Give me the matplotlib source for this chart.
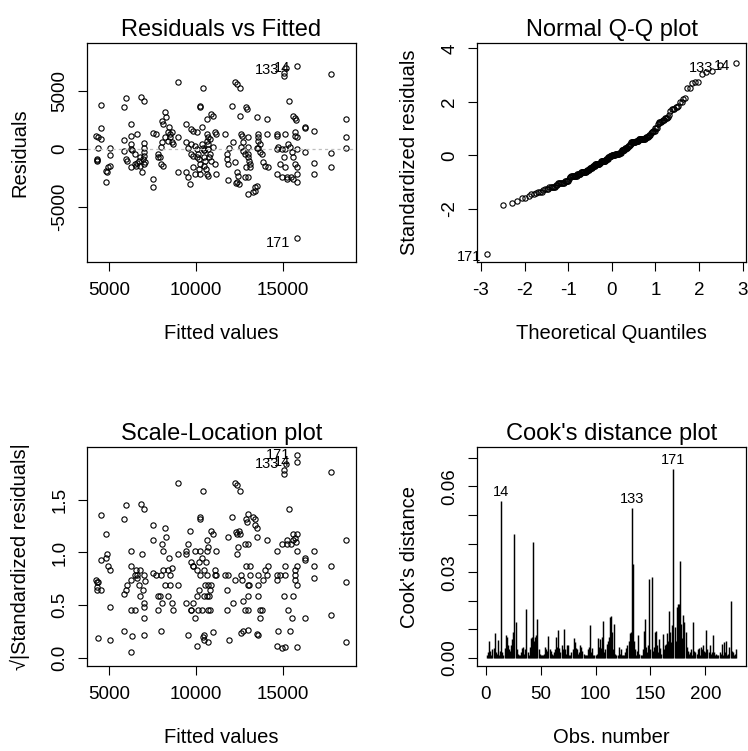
import numpy as np
import matplotlib
matplotlib.use("Agg")
import matplotlib.pyplot as plt
from statistics import NormalDist

plt.rcParams['font.family'] = ['Liberation Sans', 'DejaVu Sans']

# ---------------- data ----------------
fitted = [
    4560, 4560, 4230, 4390, 4560, 4370, 4290, 4300, 4310, 4850, 4880, 4850, 5040, 5040, 5040, 4940,
    5850, 6000, 5850, 5850, 6000, 6060, 6290, 6290, 6290, 6290, 6350, 6290, 6480, 6480, 6580, 6630,
    6620, 6730, 6770, 6870, 7000, 7000, 7000, 7000, 7000, 6960, 7000, 6920, 6770, 7100,
    7540, 7540, 7540, 7730, 7830, 7830, 8020, 8110, 8020, 8080, 7920, 8110, 8210, 8310, 8060, 8400,
    8500, 8600, 8540, 8600, 8400, 8250, 8690, 8460,
    8980, 8980, 8980, 9420, 9460, 9560, 9650, 9460, 9560, 9750, 9850, 9750, 9750, 9810, 9850, 9940,
    10040, 9940, 10040, 10130, 10080, 10190, 10230, 10230, 10230, 10190, 10230,
    10420, 10330, 10380, 10420, 10460, 10460, 10520, 10460, 10580, 10620, 10710, 10620, 10650, 10710,
    10620, 10710, 10710, 10810, 10770, 10850, 11000, 11100, 11150, 11000, 11100, 11150, 10900, 10810, 10500,
    11670, 11770, 11770, 11860, 11860, 11920, 12060, 12250, 12380, 12540, 12150, 12250, 12350, 12380,
    12500, 12310, 12440, 12540, 12580, 12690, 12630, 12730, 12830, 12920, 12960, 13020, 13020, 13020,
    13020, 13080, 13120, 13150, 13020, 13020, 12920, 12830, 12700,
    13400, 13500, 13400, 13310, 13500, 13600, 13600, 13690, 13600, 13500, 13690, 13790, 13880, 13980,
    14170, 14080, 14130, 13600,
    14650, 14650, 14650, 14650, 14750, 14850, 14940, 15130, 15130, 15230, 15270, 15080, 15130, 15190,
    15080, 15080, 15810, 15380, 15620, 15710, 15770, 15710, 15710, 15620, 15710, 15810, 15620, 15810,
    15520, 15420, 15330, 15810, 15810, 15460, 15810, 14950, 15810,
    16290, 16290, 16290, 16810, 16810, 16810, 17790, 17790, 17790, 18650, 18650, 18650,
]
residuals = [
    3800, 1770, 1140, 1060, 860, 75, -860, -1060, -940, -1860, -2000, -2860, 60, -490, -1430, -1570,
    3570, 4370, 770, -140, -860, -1000, 2140, 1140, 430, 7, -90, -1570, -430, -1290, -1430, -1200,
    1290, -1000, -1430, 4430, 4140, 490, 100, -290, -570, -860, -1290, -2000, -710, -1100,
    -2570, -3290, 1340, 1290, -430, -710, -1290, -1430, 140, 570, -710, 2140, 3140, 2710, 2430, 1430,
    1290, 1490, 1000, 570, 710, 1000, 430, 1860,
    5710, -2000, 1000, 2140, -2000, -2430, -3000, 570, 100, 1710, 1570, 430, -430, -570, -1570, -2140,
    1430, 290, -25, -430, -710, -860, 3710, 3570, -1290, -1710, -2140,
    5200, 1860, 430, 83, -60, -710, -1000, -1430, -1710, -2140, -2290, 2570, 1290, 1000,
    710, 430, -47, -430, -710, 3000, 2860, 1430, 1290, 130, -1290, -2140, -1000, 860, -100,
    1290, -430, -860, -1290, -2710, 60, 3710, 5710, 5570, 5200, 570, -1140, -2000, -2860,
    -3000, -2940, -2290, 2860, 1290, 1140, 120, -140, -2430, 3570, 3430, 1000, 150, -430,
    -710, -1000, -1290, -1570, -2430, -3860, -1570, -430, 600,
    -3290, -3140, -3570, -3710, 2710, 1290, 1000, 430, 100, 110, -290, -430, -1140, -1430,
    -1570, 1290, 2570, 710,
    1290, 1140, 25, -2140, 140, -1290, -2430, 21, -1570, -2430, -2570, -710, 1290, 6970,
    6540, 6290, 7140, 4140, 2860, 2660, 2510, 1430, 1140, -710, -1290, -1570, -2570, -2860,
    -290, 140, 430, 1000, -2140, -2430, -7630, 20, -22,
    1860, 1770, -290, 1570, -1200, -2140, 6430, -340, -1570, 2570, 1060, 47,
]
sigma = 2070.0                      # residual standard error
resid_id_labels = ["171", "14", "133"]   # names of the 3 largest |residuals|, in decreasing order

cooks = [
    0.001, 0.002, 0.0058, 0.0025, 0.001, 0.003, 0.0035, 0.0088, 0.002, 0.0015,
    0.0064, 0.001, 0.0025, 0.0548, 0.002, 0.0012, 0.0035, 0.0082, 0.0075, 0.0045,
    0.003, 0.0025, 0.0045, 0.0065, 0.009, 0.0432, 0.0126, 0.003, 0.0015, 0.001,
    0.0012, 0.002, 0.0035, 0.004, 0.0015, 0.003, 0.0173, 0.002, 0.0012, 0.004,
    0.007, 0.0075, 0.0404, 0.006, 0.0072, 0.008, 0.0138, 0.003, 0.0015, 0.001,
    0.001, 0.0012, 0.0015, 0.004, 0.003, 0.0025, 0.0076, 0.003, 0.0025, 0.0015,
    0.001, 0.002, 0.003, 0.0074, 0.004, 0.0097, 0.0035, 0.002, 0.0045, 0.003,
    0.0103, 0.003, 0.0015, 0.0045, 0.0045, 0.001, 0.001, 0.002, 0.003, 0.007,
    0.0055, 0.0035, 0.003, 0.0015, 0.002, 0.0045, 0.004, 0.0025, 0.0015, 0.0012,
    0.001, 0.001, 0.003, 0.004, 0.0114, 0.002, 0.0035, 0.001, 0.001, 0.0012,
    0.0015, 0.007, 0.004, 0.0065, 0.0035, 0.0075, 0.013, 0.002, 0.003, 0.005,
    0.006, 0.0075, 0.0143, 0.0147, 0.009, 0.003, 0.012, 0.0015, 0.001, 0.001,
    0.004, 0.0015, 0.003, 0.001, 0.001, 0.001, 0.002, 0.0035, 0.0045, 0.006,
    0.0088, 0.009, 0.0523, 0.033, 0.006, 0.003, 0.001, 0.0025, 0.008, 0.0015,
    0.001, 0.001, 0.003, 0.0095, 0.0138, 0.004, 0.002, 0.0045, 0.0278, 0.003,
    0.0285, 0.0025, 0.004, 0.009, 0.0095, 0.0045, 0.002, 0.0065, 0.0035, 0.0015,
    0.0085, 0.003, 0.0045, 0.005, 0.0087, 0.006, 0.0166, 0.009, 0.0055, 0.0115,
    0.066, 0.011, 0.006, 0.018, 0.019, 0.0188, 0.034, 0.012, 0.007, 0.015,
    0.0126, 0.009, 0.004, 0.0025, 0.0015, 0.002, 0.003, 0.001, 0.0126, 0.0025,
    0.002, 0.0015, 0.003, 0.0035, 0.001, 0.004, 0.003, 0.0045, 0.0025, 0.002,
    0.0097, 0.003, 0.002, 0.0045, 0.0015, 0.002, 0.0082, 0.002, 0.001, 0.0015,
    0.001, 0.001, 0.002, 0.0015, 0.005, 0.001, 0.0055, 0.002, 0.0058, 0.001,
    0.0015, 0.004, 0.020, 0.0025, 0.002, 0.001, 0.0015, 0.003,
]

fit_ticks = [5000, 10000, 15000]
res_ticks = [-5000, 0, 5000]
qq_xticks = [-3, -2, -1, 0, 1, 2, 3]
qq_yticks = [-2, 0, 2, 4]
sl_yticks = [0.0, 0.5, 1.0, 1.5]
obs_ticks = [0, 50, 100, 150, 200]
cook_ticks = [0.00, 0.01, 0.02, 0.03, 0.04, 0.05, 0.06, 0.07]
cook_tick_labels = ["0.00", "", "", "0.03", "", "", "0.06", ""]

# ---------------- derived quantities ----------------
fitted = np.array(fitted, float)
residuals = np.array(residuals, float)
std_res = residuals / sigma
n = len(residuals)
order = np.argsort(std_res)
pp = (np.arange(1, n + 1) - 0.5) / n
theo = np.array([NormalDist().inv_cdf(p) for p in pp])
sqrt_abs = np.sqrt(np.abs(std_res))
top_ids = np.argsort(-np.abs(residuals))[:3]
cooks = np.array(cooks, float)
obs = np.arange(1, len(cooks) + 1)
cook_top = np.argsort(-cooks)[:3]

# ---------------- figure ----------------
W, H = 748, 751
fig = plt.figure(figsize=(W / 100, H / 100), dpi=100)

def ax_at(l, t, r, b):
    return fig.add_axes([l / W, 1 - b / H, (r - l) / W, (b - t) / H])

ax1 = ax_at(87, 43, 356, 262)
ax2 = ax_at(477, 43, 746, 262)
ax3 = ax_at(87, 447, 356, 666)
ax4 = ax_at(477, 447, 746, 666)

TICK = 13.5
LAB = 14.5
TITLE = 17
IDF = 10.5
mk = dict(marker='o', ls='none', mfc='none', mec='black', ms=3.8, mew=0.8)

def style(ax, xt, xl, yt, yl, title, xlabel, ylabel):
    for s in ax.spines.values():
        s.set_linewidth(0.9)
        s.set_color('black')
    ax.set_xticks(xt, xl)
    ax.set_yticks(yt, yl, rotation=90, va='center')
    ax.tick_params(direction='out', length=6.5, width=0.8, labelsize=TICK, color='black')
    ax.tick_params(axis='x', pad=8)
    ax.tick_params(axis='y', pad=7)
    ax.set_title(title, fontsize=TITLE, pad=5)
    ax.set_xlabel(xlabel, fontsize=LAB)
    ax.set_ylabel(ylabel, fontsize=LAB)
    ax.xaxis.set_label_coords(0.5, -0.325)
    ax.xaxis.label.set_va('center')
    ax.yaxis.set_label_coords(-0.25, 0.5)
    ax.yaxis.label.set_va('center')

def lab_left(ax, x, y, s, dy=-2):
    ax.annotate(s, (x, y), xytext=(-4.5, dy), textcoords='offset points',
                ha='right', va='center', fontsize=IDF, annotation_clip=False)

# Residuals vs Fitted
ax1.plot(fitted, residuals, **mk)
ax1.axhline(0, color='#BEBEBE', lw=0.9, ls=(0, (2.5, 2.5)))
ax1.set_xlim(3730, 19230)
ax1.set_ylim(-9700, 9080)
style(ax1, fit_ticks, [str(v) for v in fit_ticks], res_ticks, [str(v) for v in res_ticks],
      "Residuals vs Fitted", "Fitted values", "Residuals")
for k, i in enumerate(top_ids):
    lab_left(ax1, fitted[i], residuals[i], resid_id_labels[k], dy=-4 if k == 0 else -2)

# Normal Q-Q
ax2.plot(theo, std_res[order], **mk)
ax2.set_xlim(-3.09, 3.08)
ax2.set_ylim(-3.99, 4.2)
style(ax2, qq_xticks, [str(v) for v in qq_xticks], qq_yticks, [str(v) for v in qq_yticks],
      "Normal Q-Q plot", "Theoretical Quantiles", "Standardized residuals")
rank = np.empty(n, int)
rank[order] = np.arange(n)
for k, i in enumerate(top_ids):
    lab_left(ax2, theo[rank[i]], std_res[i], resid_id_labels[k])

# Scale-Location
ax3.plot(fitted, sqrt_abs, **mk)
ax3.set_xlim(3730, 19230)
ax3.set_ylim(-0.076, 2.0)
style(ax3, fit_ticks, [str(v) for v in fit_ticks], sl_yticks, ["%.1f" % v for v in sl_yticks],
      "Scale-Location plot", "Fitted values", "√|Standardized residuals|")
for k, i in enumerate(top_ids):
    lab_left(ax3, fitted[i], sqrt_abs[i], resid_id_labels[k], dy=0)

# Cook's distance
ax4.vlines(obs, 0, cooks, color='black', lw=1.05)
ax4.set_xlim(-8.1, 237.1)
ax4.set_ylim(-0.0028, 0.0738)
style(ax4, obs_ticks, [str(v) for v in obs_ticks], cook_ticks, cook_tick_labels,
      "Cook's distance plot", "Obs. number", "Cook's distance")
for i in cook_top:
    ax4.annotate(str(obs[i]), (obs[i], cooks[i]), xytext=(0, 1.5), textcoords='offset points',
                 ha='center', va='bottom', fontsize=IDF, annotation_clip=False)

fig.savefig("out.png", dpi=100)
